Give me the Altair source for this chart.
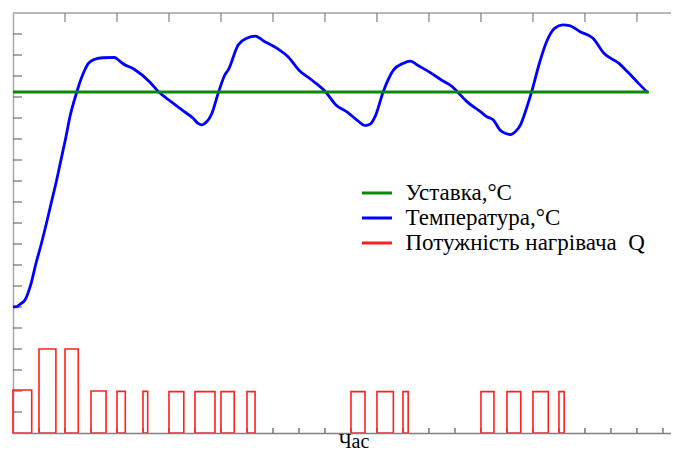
import altair as alt
import pandas as pd

# time in sampling steps, values in y-tick units
temp_t = [0, 0.15, 0.27, 0.46, 0.68, 0.88, 1.10, 1.30, 1.49, 1.68,
          1.85, 2.03, 2.19, 2.45, 2.58, 2.73, 2.90, 3.15, 3.46, 3.91,
          4.00, 4.25, 4.66, 5.25, 5.60, 6.08, 6.60, 6.93, 7.12, 7.27,
          7.38, 7.64, 7.90, 8.15, 8.28, 8.66, 8.99, 9.32, 9.64, 10.19,
          10.58, 10.99, 11.49, 12.02, 12.42, 12.88, 13.23, 13.55, 13.73, 13.94,
          14.24, 14.64, 15.00, 15.29, 15.55, 16.04, 16.48, 16.90, 17.10, 17.46,
          17.98, 18.23, 18.48, 18.73, 18.96, 19.15, 19.31, 19.52, 19.73, 19.96,
          20.25, 20.50, 20.83, 21.15, 21.40, 21.81, 22.31, 22.73, 23.31, 23.64,
          24.06, 24.42]
temp_v = [6.01, 6.02, 6.13, 6.33, 7.05, 8.06, 9.06, 10.06, 11.06, 12.05,
          13.03, 14.06, 15.06, 16.22, 16.73, 17.20, 17.60, 17.80, 17.87, 17.89,
          17.81, 17.57, 17.32, 16.73, 16.25, 15.78, 15.29, 14.99, 14.74, 14.67,
          14.74, 15.19, 16.21, 17.05, 17.29, 18.48, 18.80, 18.90, 18.67, 18.29,
          17.92, 17.29, 16.81, 16.25, 15.62, 15.26, 14.90, 14.64, 14.70, 15.10,
          16.25, 17.29, 17.60, 17.71, 17.52, 17.17, 16.81, 16.49, 16.24, 15.78,
          15.30, 15.06, 14.90, 14.43, 14.26, 14.21, 14.33, 14.67, 15.38, 16.29,
          17.62, 18.56, 19.27, 19.43, 19.40, 19.11, 18.80, 18.08, 17.60, 17.20,
          16.65, 16.20]

setpoint_t = [0, 24.46]
setpoint_v = [16.24, 16.24]

q_start = [0, 1, 2, 3, 4, 5, 6, 7, 8, 9, 13, 14, 15, 18, 19, 20, 21]
q_end = [0.72, 1.65, 2.51, 3.58, 4.32, 5.18, 6.57, 7.77, 8.51, 9.31,
         13.54, 14.63, 15.20, 18.50, 19.53, 20.59, 21.20]
q_level = [2.05, 4.0, 4.0, 2.0, 1.98, 1.98, 1.97, 1.97, 1.97, 1.97,
           1.97, 1.97, 1.97, 1.97, 1.97, 1.97, 1.97]

series_names = ["Уставка,°C", "Температура,°C", "Потужність нагрівача\u00a0\u00a0Q"]
series_colors = ["#0b870b", "#0000ff", "#ff1f1f"]

x_top_ticks = list(range(2, 26, 2))
x_bottom_ticks = list(range(1, 26))
y_ticks = list(range(1, 20))
x_title = "Час"

SERIF = "Liberation Serif, Times New Roman, serif"
W, H = 658, 420
XDOM = [0, 25.31]
YDOM = [0, 20]

df_temp = pd.DataFrame({"t": temp_t, "v": temp_v, "series": series_names[1]})
df_set = pd.DataFrame({"t": setpoint_t, "v": setpoint_v, "series": series_names[0]})
df_q = pd.DataFrame({"t0": q_start, "t1": q_end, "v": q_level, "series": series_names[2]})
df_xtop = pd.DataFrame({"t": x_top_ticks})
df_xbot = pd.DataFrame({"t": x_bottom_ticks})
df_y = pd.DataFrame({"v": y_ticks})

xscale = alt.Scale(domain=XDOM, nice=False, zero=False)
yscale = alt.Scale(domain=YDOM, nice=False, zero=False)

x_axis = alt.Axis(orient="bottom", ticks=False, labels=False, grid=False, title=x_title,
                  domainColor="#808080", domainWidth=1.3, zindex=1,
                  titleFont=SERIF, titleFontSize=20, titleFontWeight="normal",
                  titleColor="black", titleX=340.5, titleY=14, titleAlign="center",
                  titleBaseline="alphabetic")
y_axis = alt.Axis(orient="left", ticks=False, labels=False, grid=False, title=None,
                  domainColor="#a8a8a8", domainWidth=1.5)

color = alt.Color(
    "series:N",
    scale=alt.Scale(domain=series_names, range=series_colors),
    legend=alt.Legend(orient="none", legendX=352, legendY=168, title=None,
                      symbolType="M-1.43,0L1.43,0", symbolStrokeWidth=3, symbolSize=441,
                      labelFont=SERIF, labelFontSize=23, labelColor="black",
                      labelOffset=16.5, rowPadding=1, labelLimit=500),
)

temp = alt.Chart(df_temp).mark_line(strokeWidth=2.8, interpolate="monotone").encode(
    x=alt.X("t:Q", scale=xscale, axis=x_axis),
    y=alt.Y("v:Q", scale=yscale, axis=y_axis),
    color=color,
)

setp = alt.Chart(df_set).mark_line(strokeWidth=3).encode(
    x=alt.X("t:Q", scale=xscale, axis=x_axis),
    y=alt.Y("v:Q", scale=yscale, axis=y_axis),
    color=color,
)

power = alt.Chart(df_q).mark_rect(filled=False, strokeWidth=1.6).encode(
    x=alt.X("t0:Q", scale=xscale, axis=x_axis),
    x2="t1:Q",
    y=alt.Y("v:Q", scale=yscale, axis=y_axis),
    y2=alt.datum(0),
    color=color,
)

top_frame = alt.Chart().mark_rule(color="#a0a0a0", strokeWidth=1.3).encode(
    x=alt.value(0), x2=alt.value(W), y=alt.value(0)
)
top_ticks = alt.Chart(df_xtop).mark_rule(color="#808080", strokeWidth=1.2).encode(
    x=alt.X("t:Q", scale=xscale, axis=x_axis), y=alt.value(0), y2=alt.value(9)
)
bottom_ticks = alt.Chart(df_xbot).mark_rule(color="#555555", strokeWidth=1.2).encode(
    x=alt.X("t:Q", scale=xscale, axis=x_axis), y=alt.value(H - 5), y2=alt.value(H)
)
left_ticks = alt.Chart(df_y).mark_rule(color="#707070", strokeWidth=1.2).encode(
    y=alt.Y("v:Q", scale=yscale, axis=y_axis), x=alt.value(0), x2=alt.value(9)
)

chart = alt.layer(top_frame, top_ticks, bottom_ticks, left_ticks, power, temp, setp).properties(
    width=W, height=H,
    autosize=alt.AutoSizeParams(type="none"),
    padding={"left": 5, "top": 5, "right": 0, "bottom": 20},
).configure_view(stroke=None)

chart.save("out.html", embed_options={"renderer": "svg", "actions": False})
